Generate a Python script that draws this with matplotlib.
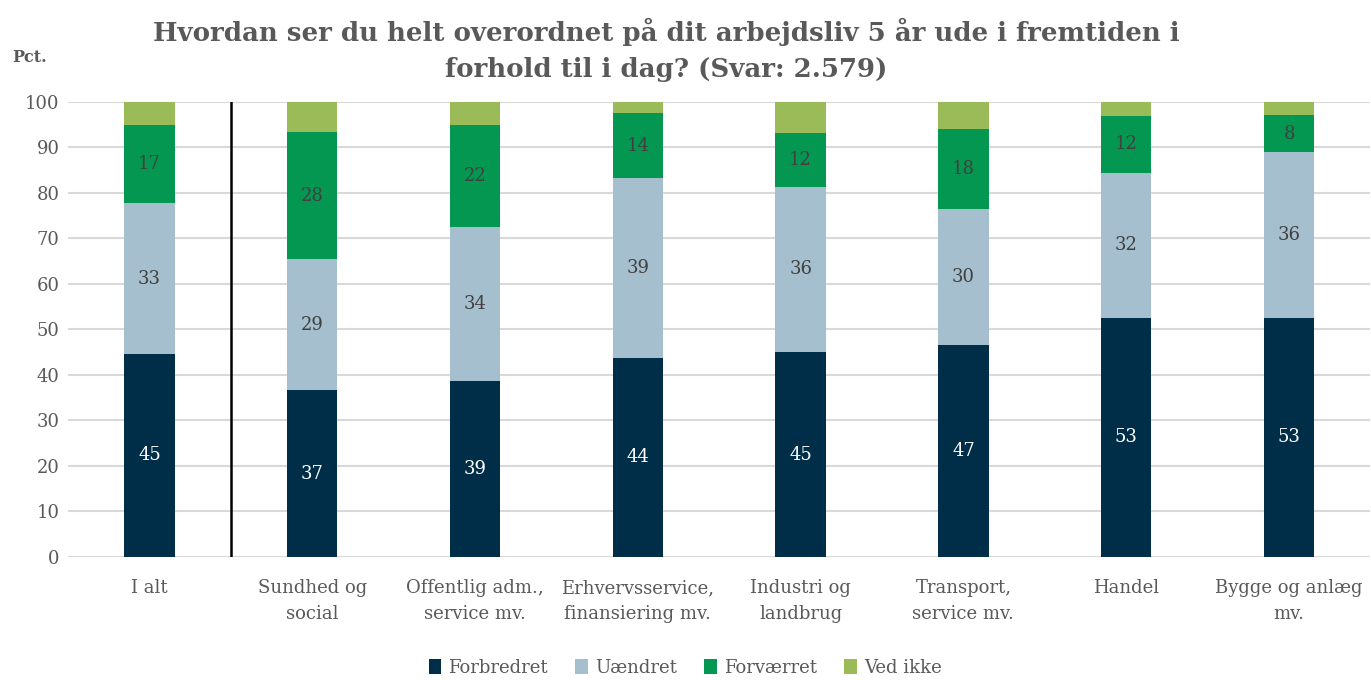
import numpy as np
import matplotlib
matplotlib.use("Agg")
from matplotlib import pyplot as plt
from matplotlib.patches import Patch

categories = ["I alt", "Sundhed og\nsocial", "Offentlig adm.,\nservice mv.",
              "Erhvervsservice,\nfinansiering mv.", "Industri og\nlandbrug",
              "Transport,\nservice mv.", "Handel", "Bygge og anlæg\nmv."]

forbedret = [44.6, 36.6, 38.6, 43.8, 45.0, 46.6, 52.6, 52.6]
uaendret = [33.2, 28.8, 34.0, 39.4, 36.4, 29.8, 31.9, 36.4]
forvaerret = [17.1, 27.9, 22.3, 14.3, 11.8, 17.6, 12.4, 8.1]
ved_ikke = [5.1, 6.7, 5.1, 2.5, 6.8, 6.0, 3.1, 2.9]

series = [("Forbredret", forbedret, "#002E49", "white"),
          ("Uændret", uaendret, "#A5BFCE", "#404040"),
          ("Forværret", forvaerret, "#049751", "#404040"),
          ("Ved ikke", ved_ikke, "#9BBB59", None)]

serif = "DejaVu Serif"
grey = "#595959"

fig = plt.figure(figsize=(13.71, 6.8), dpi=100)
ax = fig.add_axes([0.0496, 0.181, 0.950, 0.669])

x = np.arange(len(categories))
bottom = np.zeros(len(categories))
handles = []
for name, vals, col, tcol in series:
    vals = np.array(vals)
    ax.bar(x, vals, width=0.31, bottom=bottom, color=col, zorder=3)
    if tcol is not None:
        for xi, b, v in zip(x, bottom, vals):
            ax.text(xi, b + v / 2, "%d" % round(v), ha="center", va="center",
                    color=tcol, fontsize=13, family=serif, zorder=4)
    bottom += vals
    handles.append(Patch(facecolor=col, label=name))

ax.set_xlim(-0.5, len(categories) - 0.5)
ax.set_ylim(0, 100)
ax.set_yticks(range(0, 101, 10))
ax.yaxis.grid(True, color="#D9D9D9", linewidth=1.5, zorder=0)
ax.plot([0.5, 0.5], [0, 100], color="black", linewidth=1.8, zorder=5)

for s in ax.spines.values():
    s.set_visible(False)
ax.tick_params(axis="both", length=0, labelsize=13, labelcolor=grey)
ax.tick_params(axis="x", pad=16)
ax.tick_params(axis="y", pad=6)
ax.set_xticks(x)
ax.set_xticklabels(categories, family=serif, linespacing=1.55)
for lab in ax.get_yticklabels():
    lab.set_family(serif)

fig.text(666 / 1371, 1 - 50 / 680, "Hvordan ser du helt overordnet på dit arbejdsliv 5 år ude i fremtiden i\nforhold til i dag? (Svar: 2.579)",
         ha="center", va="center", fontsize=18.7, fontweight="bold", color=grey,
         family=serif, linespacing=1.55)
fig.text(30 / 1371, 1 - 58 / 680, "Pct.", ha="center", va="center", fontsize=11.5,
         fontweight="bold", color=grey, family=serif)

fig.legend(handles=handles, loc="center", bbox_to_anchor=(685 / 1371, 1 - 668 / 680),
           ncol=4, frameon=False, prop={"family": serif, "size": 13},
           labelcolor=grey, handlelength=0.7, handleheight=0.9, handletextpad=0.4,
           columnspacing=1.5)

fig.savefig("out.png", dpi=100)
